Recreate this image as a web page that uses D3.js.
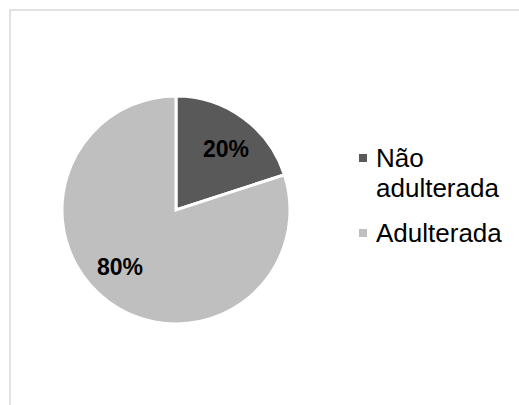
<!DOCTYPE html>
<html><head><meta charset="utf-8">
<script src="https://cdn.jsdelivr.net/npm/d3@7"></script>
<style>body{margin:0;background:#fff}svg{display:block}</style>
</head><body>
<script>
const categories = ["Não adulterada", "Adulterada"];
const legendLines = [["Não", "adulterada"], ["Adulterada"]];
const values = [20, 80];
const labels = ["20%", "80%"];
const colors = ["#595959", "#bfbfbf"];

const W = 519, H = 405;
const svg = d3.select("body").append("svg").attr("width", W).attr("height", H);

svg.append("rect").attr("x", 10).attr("y", 10).attr("width", W + 20).attr("height", H + 20)
  .attr("fill", "#fff").attr("stroke", "#d9d9d9").attr("stroke-width", 1.5);

const cx = 176, cy = 210, r = 114;
const pie = d3.pie().sort(null).value(d => d)(values);
const arc = d3.arc().innerRadius(0).outerRadius(r);
const labelArc = d3.arc().innerRadius(80).outerRadius(80);
// small best-fit nudges for data labels (layout only)
const labelNudge = [[3, 3], [-9, -8]];

const g = svg.append("g").attr("transform", `translate(${cx},${cy})`);
g.selectAll("path").data(pie).join("path")
  .attr("d", arc).attr("fill", (d, i) => colors[i])
  .attr("stroke", "#fff").attr("stroke-width", 3).attr("stroke-linejoin", "miter");

g.selectAll("text").data(pie).join("text")
  .attr("transform", (d, i) => { const c = labelArc.centroid(d); return `translate(${c[0] + labelNudge[i][0]},${c[1] + labelNudge[i][1]})`; })
  .attr("text-anchor", "middle").attr("dy", "0.36em")
  .attr("font-family", "Liberation Sans, Arial, sans-serif")
  .attr("font-weight", "bold").attr("font-size", 23).attr("fill", "#000")
  .text((d, i) => labels[i]);

const legendY = [154, 229];
const lg = svg.append("g");
categories.forEach((c, i) => {
  lg.append("rect").attr("x", 359).attr("y", legendY[i]).attr("width", 8).attr("height", 8).attr("fill", colors[i]);
  const t = lg.append("text").attr("x", 376).attr("y", legendY[i] + 13)
    .attr("font-family", "Liberation Sans, Arial, sans-serif").attr("font-size", 26).attr("fill", "#000");
  legendLines[i].forEach((ln, j) => {
    t.append("tspan").attr("x", 376).attr("dy", j === 0 ? 0 : 30).text(ln);
  });
});
</script>
</body></html>
